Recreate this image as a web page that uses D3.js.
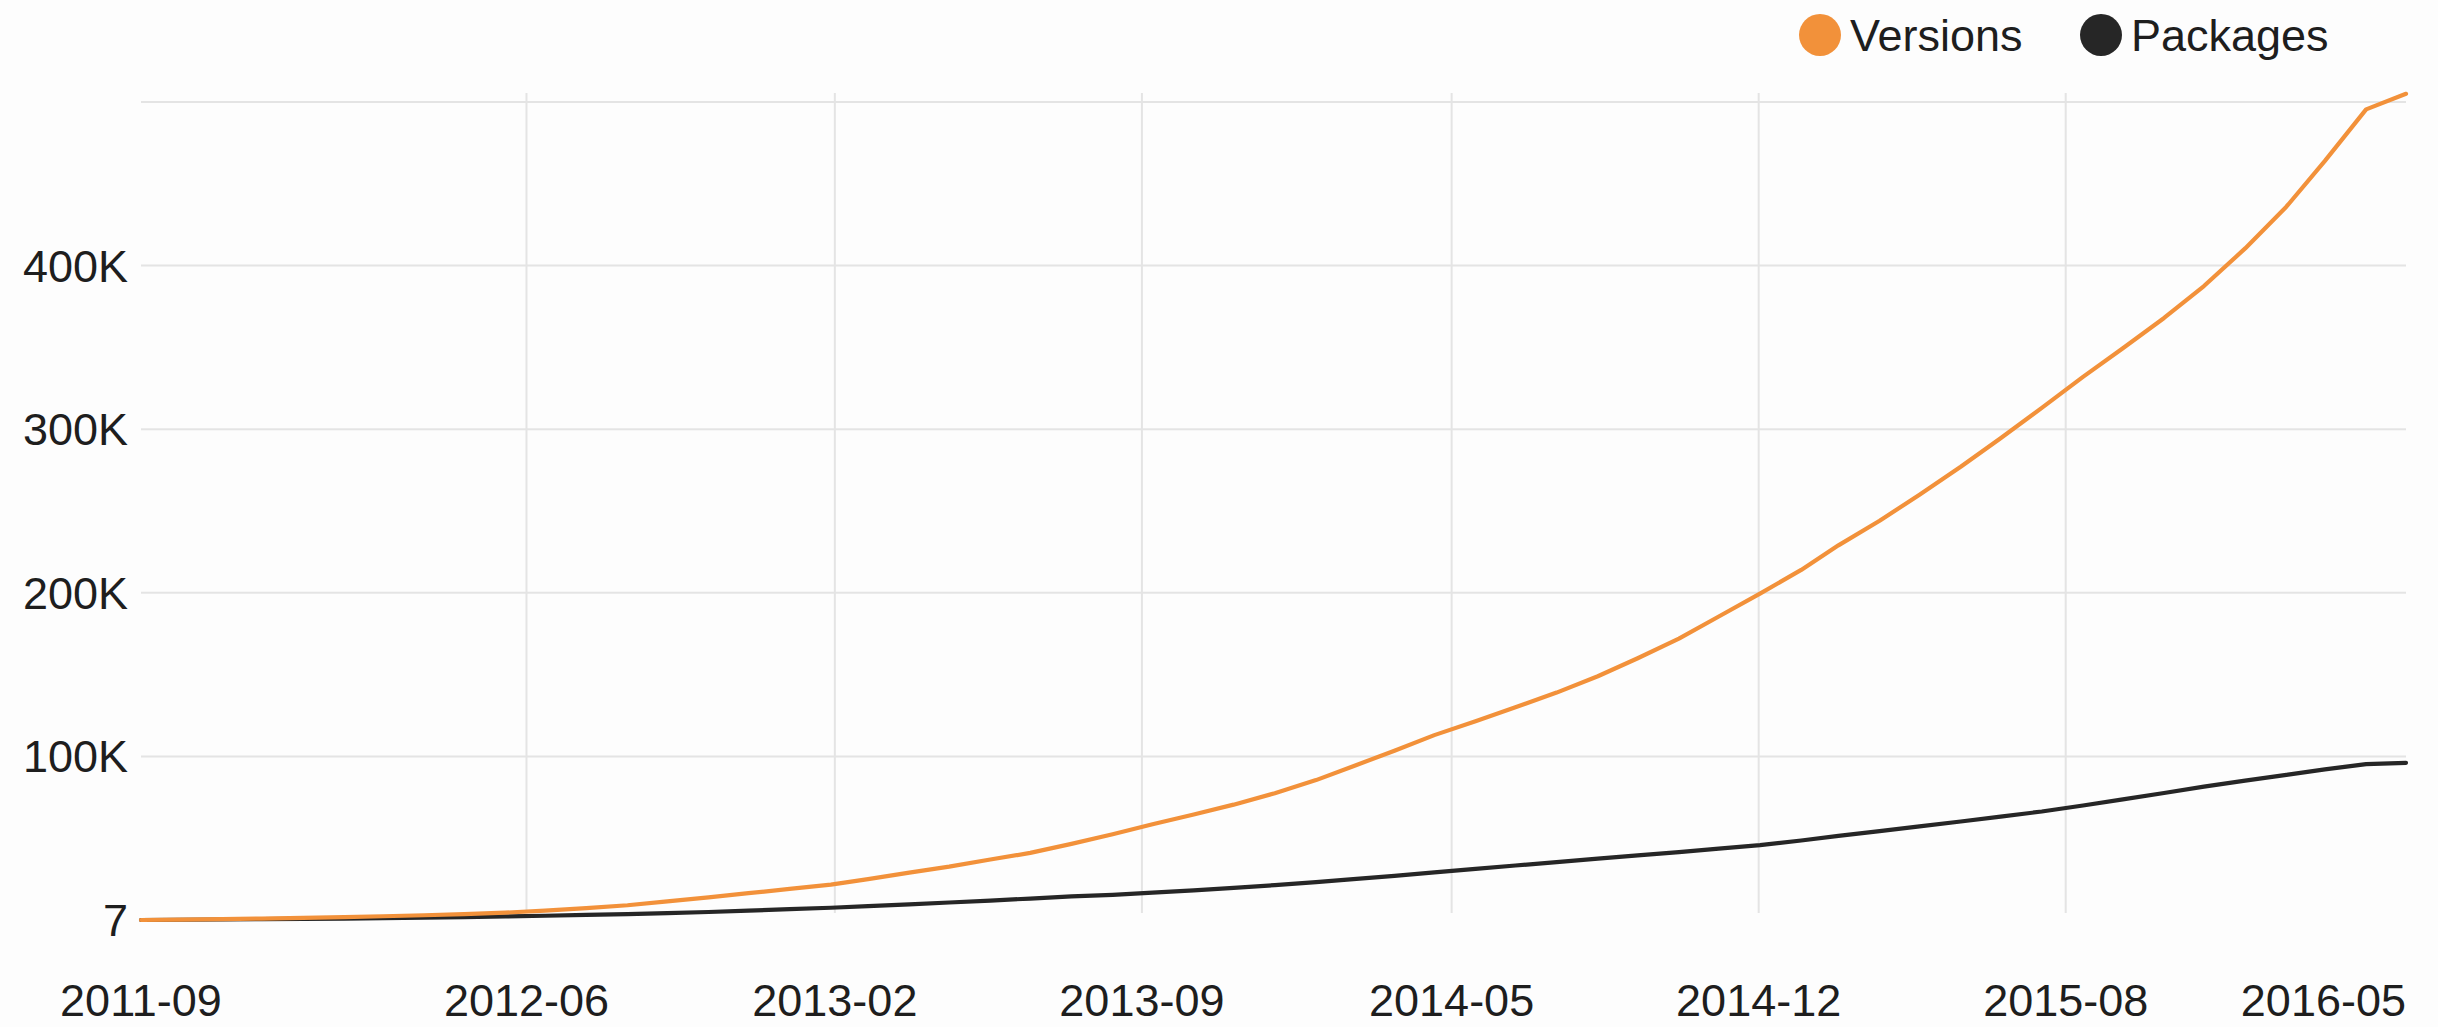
<!DOCTYPE html>
<html>
<head>
<meta charset="utf-8">
<script src="https://cdnjs.cloudflare.com/ajax/libs/d3/7.8.5/d3.min.js"></script>
<style>
  html, body { margin: 0; padding: 0; background: #fdfdfd; }
  #chart { width: 2438px; height: 1027px; }
  text { font-family: "Liberation Sans", Arial, Helvetica, sans-serif; fill: #1e1e1e; }
</style>
</head>
<body>
<div id="chart"></div>
<script>
// monthly cumulative counts
const months = [
  "2011-09","2011-10","2011-11","2011-12",
  "2012-01","2012-02","2012-03","2012-04","2012-05","2012-06","2012-07","2012-08","2012-09","2012-10","2012-11","2012-12",
  "2013-01","2013-02","2013-03","2013-04","2013-05","2013-06","2013-07","2013-08","2013-09","2013-10","2013-11","2013-12",
  "2014-01","2014-02","2014-03","2014-04","2014-05","2014-06","2014-07","2014-08","2014-09","2014-10","2014-11","2014-12",
  "2015-01","2015-02","2015-03","2015-04","2015-05","2015-06","2015-07","2015-08","2015-09","2015-10","2015-11","2015-12",
  "2016-01","2016-02","2016-03","2016-04","2016-05"
];

const versions = [
  7, 200, 500, 900,
  1300, 1800, 2300, 2900, 3600, 4500, 5700, 7200, 9000, 11400, 13800, 16400,
  19000, 21600, 25000, 29000, 32600, 37000, 41000, 46500, 52400, 58500, 64500, 70500,
  77500, 85500, 94000, 103500, 113000, 121500, 130000, 139000, 149000, 160000, 172000, 185500,
  199500, 214000, 229000, 244000, 260000, 277000, 294500, 313000, 332000, 349500, 368000, 387500,
  410500, 436000, 464000, 495500, 505000
];

const packages = [
  7, 150, 300, 500,
  700, 900, 1200, 1500, 1800, 2200, 2600, 3100, 3600, 4200, 4900, 5700,
  6600, 7500, 8500, 9600, 10700, 11900, 13100, 14400, 15400, 16700, 18100, 19600,
  21300, 23100, 25000, 27000, 29100, 31200, 33300, 35400, 37500, 39500, 41500, 43600,
  45800, 48600, 51400, 54300, 57200, 60200, 63200, 66300, 70000, 73700, 77600, 81500,
  85200, 88700, 92100, 95300, 96100
];

const seriesNames = ["Versions", "Packages"];
const seriesColors = ["#f2913a", "#262626"];

const xTickDates = ["2011-09-01","2012-06-17","2013-02-04","2013-09-23","2014-05-14","2014-12-31","2015-08-19","2016-05-01"];
const xTickLabels = ["2011-09","2012-06","2013-02","2013-09","2014-05","2014-12","2015-08","2016-05"];

const yTickValues = [7, 100000, 200000, 300000, 400000, 500000];
const yTickLabels = ["7", "100K", "200K", "300K", "400K", ""];

const width = 2438, height = 1027;
const margin = { top: 102, right: 32, bottom: 107, left: 141 };

const parseMonth = d3.timeParse("%Y-%m");
const parseDay = d3.timeParse("%Y-%m-%d");

const svg = d3.select("#chart")
  .append("svg")
  .attr("width", width)
  .attr("height", height);

const x = d3.scaleTime()
  .domain([parseMonth(months[0]), parseMonth(months[months.length - 1])])
  .range([margin.left, width - margin.right]);

const y = d3.scaleLinear()
  .domain([0, 500000])
  .range([height - margin.bottom, margin.top]);

// grid
const grid = svg.append("g").attr("stroke", "#e4e4e4").attr("stroke-width", 2);

grid.selectAll("line.h")
  .data(yTickValues.slice(1))
  .enter()
  .append("line")
  .attr("class", "h")
  .attr("x1", x.range()[0])
  .attr("x2", x.range()[1])
  .attr("y1", d => y(d))
  .attr("y2", d => y(d));

grid.selectAll("line.v")
  .data(xTickDates.slice(1, -1))
  .enter()
  .append("line")
  .attr("class", "v")
  .attr("x1", d => x(parseDay(d)))
  .attr("x2", d => x(parseDay(d)))
  .attr("y1", margin.top - 9)
  .attr("y2", height - margin.bottom - 7);

// y labels
svg.append("g")
  .selectAll("text")
  .data(yTickValues)
  .enter()
  .append("text")
  .attr("x", 128)
  .attr("y", d => y(d) + 16)
  .attr("text-anchor", "end")
  .style("font-size", "45px")
  .text((d, i) => yTickLabels[i]);

// x labels
svg.append("g")
  .selectAll("text")
  .data(xTickDates)
  .enter()
  .append("text")
  .attr("x", d => x(parseDay(d)))
  .attr("y", 1016)
  .attr("text-anchor", (d, i) => i === xTickDates.length - 1 ? "end" : "middle")
  .style("font-size", "45px")
  .text((d, i) => xTickLabels[i]);

// lines
const rows = months.map((m, i) => ({ date: parseMonth(m), v: [versions[i], packages[i]] }));

[1, 0].forEach(k => {
  const line = d3.line()
    .x(d => x(d.date))
    .y(d => y(d.v[k]));
  svg.append("path")
    .datum(rows)
    .attr("d", line)
    .attr("fill", "none")
    .attr("stroke", seriesColors[k])
    .attr("stroke-width", 4.2)
    .attr("stroke-linejoin", "round")
    .attr("stroke-linecap", "round");
});

// legend
const legendX = [1820, 2101];
const legend = svg.append("g")
  .selectAll("g")
  .data(seriesNames)
  .enter()
  .append("g")
  .attr("transform", (d, i) => `translate(${legendX[i]}, 35)`);

legend.append("circle")
  .attr("r", 21)
  .attr("fill", (d, i) => seriesColors[i]);

legend.append("text")
  .attr("x", 30)
  .attr("y", 16)
  .style("font-size", "45px")
  .text(d => d);
</script>
</body>
</html>
